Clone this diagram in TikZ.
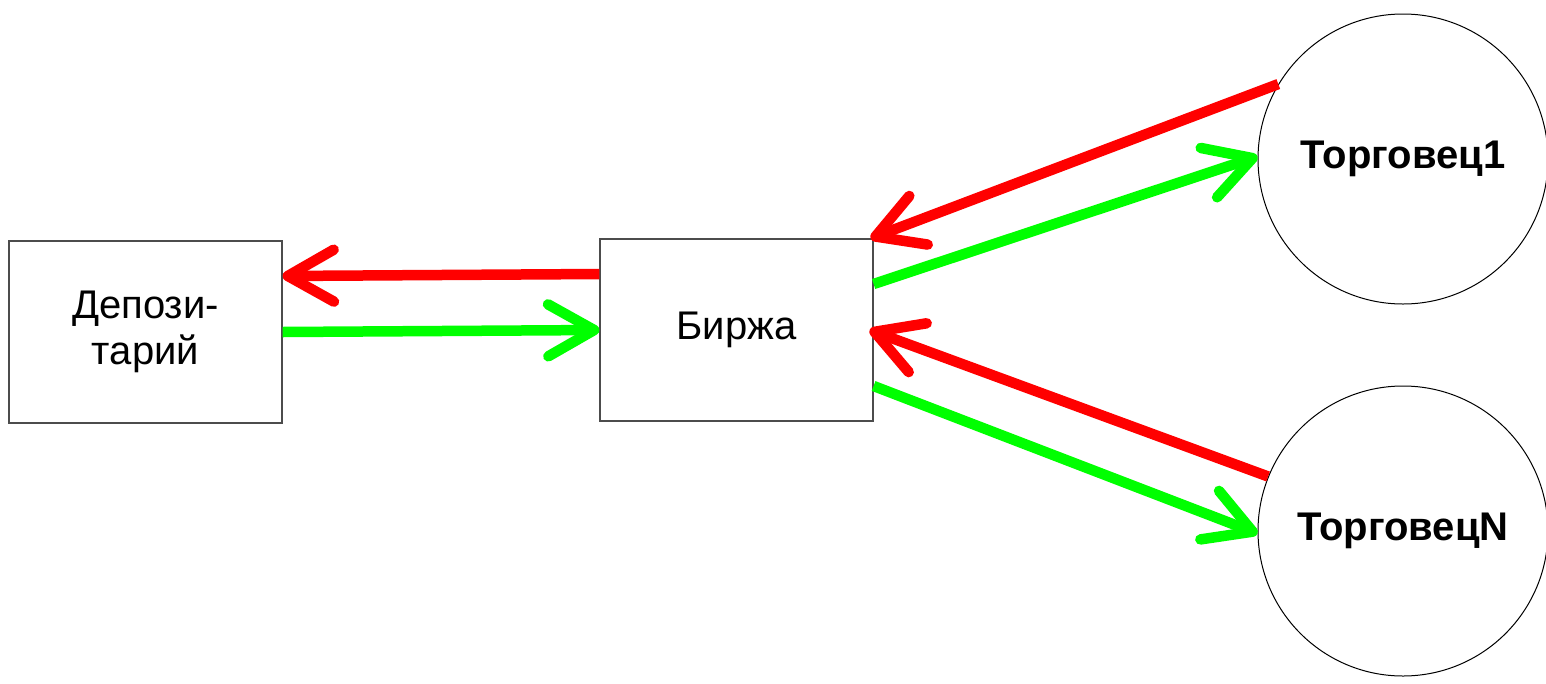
\documentclass[tikz,border=0pt]{standalone}
\usepackage{fontspec}
\setmainfont{Liberation Sans}
\usetikzlibrary{arrows.meta}
\definecolor{pure green}{RGB}{0,255,0}
\definecolor{pure red}{RGB}{255,0,0}
\tikzset{
	box/.style={rectangle,draw=black!70,line width=1.2pt,minimum width=273pt,minimum height=182pt,font=\fontsize{40}{46}\selectfont,align=center},
	trader/.style={circle,draw,line width=1pt,minimum size=290pt,inner sep=0pt,font=\bfseries\fontsize{40}{46}\selectfont},
	flow/.style={line width=10.5pt,-{Straight Barb[length=46pt,width=52pt,round]}},
	back/.style={flow,pure red},
	forth/.style={flow,pure green}
}
\begin{document}
\begin{tikzpicture}[x=1pt,y=-1pt]
		\useasboundingbox (0,0) rectangle (1546,683);
		
		\node(depo) at (145.5,332)[box]{Депози-\\тарий};
		\node(birzha) at (736.5,330)[box]{Биржа};
		\node(t1) at (1403,159)[trader]{Торговец1};
		\node(tn) at (1403,531)[trader]{ТорговецN};
			\draw[back] ([yshift=56pt]birzha.west) -- ([yshift=56pt]depo.east);
			\draw[forth] (depo.east) -- (birzha.west);
			\draw[back] (t1.149.7) -- ([xshift=-3pt]birzha.north east);
			\draw[forth] ([yshift=46pt]birzha.east) -- (t1.179);
			\draw[back] (tn.158.3) -- ([xshift=-4pt]birzha.east);
			\draw[forth] ([yshift=-56pt]birzha.east) -- (tn.181.6);
		
	\end{tikzpicture}
\end{document}
